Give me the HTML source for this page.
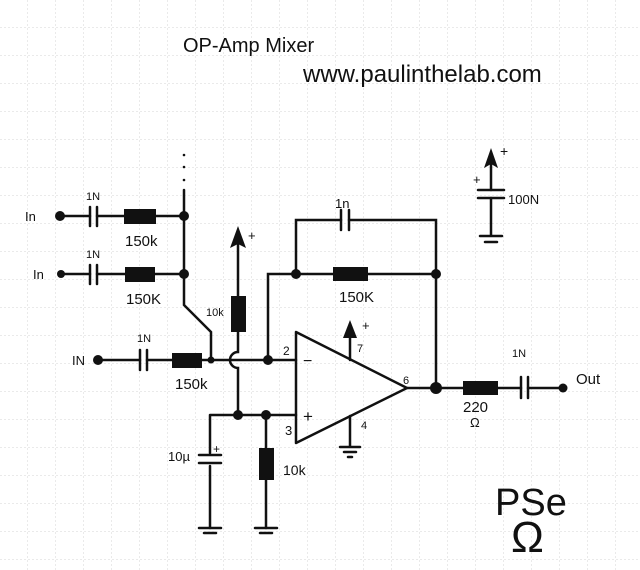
<!DOCTYPE html>
<html><head><style>
body{margin:0;width:640px;height:570px;overflow:hidden;background:#fff;}
svg{display:block}
text{font-family:"Liberation Sans",sans-serif;fill:#111}
</style></head><body>
<svg width="640" height="570" viewBox="0 0 640 570">
<defs>
<pattern id="g" width="28" height="28" patternUnits="userSpaceOnUse">
<path d="M28 0V28M0 28H28" fill="none" stroke="#d4d4d4" stroke-width="1" stroke-dasharray="2,2"/>
</pattern>
</defs>
<rect width="640" height="570" fill="url(#g)"/>
<g stroke="#111" stroke-width="2.5" fill="none" stroke-linecap="round">
<path d="M60 216H90M97 216H124M156 216H184"/>
<path d="M90 207V226M97 207V226"/>
<path d="M61 274H90M97 274H125M155 274H184"/>
<path d="M90 265V284M97 265V284"/>
<path d="M184 190V305L211 332V360"/>
<path d="M98 360H140M147 360H172M202 360H296"/>
<path d="M140 350V370M147 350V370"/>
<path d="M238 240V296M238 332V352A8 8 0 0 0 238 368V415"/>
<path d="M268 360V274H333M368 274H436M296 274V220H341M349 220H436V388"/>
<path d="M341 210V230M349 210V230"/>
<path d="M296 332V443L407 388Z" stroke-linejoin="round"/>
<path d="M350 360V330M350 416V447M340 447H360M344 452H356M348 457H352"/>
<path d="M407 388H463M498 388H521M528 388H563"/>
<path d="M521 377V398M528 377V398"/>
<path d="M210 415H296M210 415V453M210 466V528M266 415V448M266 480V528"/>
<path d="M199 528H221M204 533H216M255 528H277M260 533H272"/>
<path d="M199 455H221M199 463H221"/>
<path d="M491 160V190M491 198V236M480 236H502M485 242H497"/>
<path d="M478 190H504M478 198H504"/>
</g>
<g fill="#111">
<circle cx="60" cy="216" r="5"/><circle cx="61" cy="274" r="4"/><circle cx="98" cy="360" r="5"/>
<circle cx="184" cy="216" r="5"/><circle cx="184" cy="274" r="5"/><circle cx="211" cy="360" r="3.5"/>
<circle cx="268" cy="360" r="5"/><circle cx="296" cy="274" r="5"/><circle cx="436" cy="274" r="5"/>
<circle cx="436" cy="388" r="6"/><circle cx="563" cy="388" r="4.5"/>
<circle cx="238" cy="415" r="5"/><circle cx="266" cy="415" r="5"/>
<circle cx="184" cy="155" r="1.3"/><circle cx="184" cy="167" r="1.3"/><circle cx="184" cy="180" r="1.3"/>
<rect x="124" y="209" width="32" height="15"/><rect x="125" y="267" width="30" height="15"/>
<rect x="172" y="353" width="30" height="15"/><rect x="231" y="296" width="15" height="36"/>
<rect x="333" y="267" width="35" height="14"/><rect x="463" y="381" width="35" height="14"/>
<rect x="259" y="448" width="15" height="32"/>
<path d="M238 226L230 248L238 244L246 248Z"/>
<path d="M350 320L343 338H357Z"/>
<path d="M491 148L484 168L491 164L498 168Z"/>
</g>
<g font-size="13">
<text x="25" y="221">In</text><text x="33" y="279">In</text><text x="72" y="365">IN</text>
<text x="86" y="200" font-size="11">1N</text><text x="86" y="258" font-size="11">1N</text><text x="137" y="342" font-size="11">1N</text>
<text x="125" y="246" font-size="15">150k</text><text x="126" y="304" font-size="15">150K</text><text x="175" y="389" font-size="15">150k</text>
<text x="206" y="316" font-size="11">10k</text><text x="248" y="240">+</text>
<text x="335" y="208">1n</text><text x="339" y="302" font-size="15">150K</text>
<text x="283" y="355" font-size="12">2</text><text x="285" y="435" font-size="13">3</text>
<text x="303" y="366" font-size="16">−</text><text x="303" y="422" font-size="17">+</text>
<text x="357" y="352" font-size="11">7</text><text x="362" y="330">+</text><text x="361" y="429" font-size="11">4</text>
<text x="403" y="384" font-size="11">6</text>
<text x="512" y="357" font-size="11">1N</text><text x="576" y="384" font-size="15">Out</text>
<text x="463" y="412" font-size="15">220</text><text x="470" y="427" font-size="13">Ω</text>
<text x="168" y="461" font-size="13">10µ</text><text x="213" y="453" font-size="12">+</text>
<text x="283" y="475" font-size="14">10k</text>
<text x="473" y="184" font-size="13">+</text><text x="500" y="156" font-size="14">+</text>
<text x="508" y="204" font-size="13">100N</text>
</g>
<text x="183" y="52" font-size="20">OP-Amp Mixer</text>
<text x="303" y="82" font-size="24">www.paulinthelab.com</text>
<text x="495" y="515" font-family="Liberation Serif" font-size="38">PSe</text>
<text x="511" y="552" font-family="Liberation Serif" font-size="44">Ω</text>
</svg>
</body></html>
